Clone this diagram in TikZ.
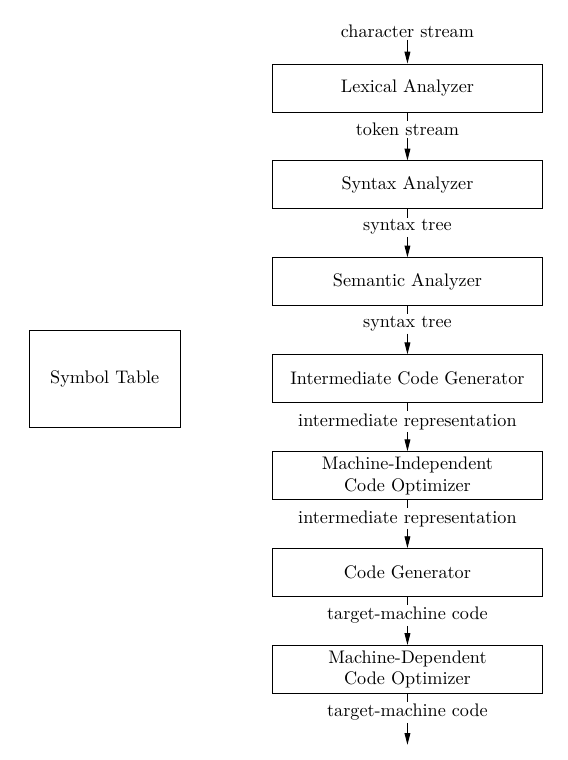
\documentclass[tikz,border=0pt]{standalone}
\usetikzlibrary{positioning,arrows.meta}
\begin{document}
\begin{tikzpicture}[node distance=26.4pt]
        \tikzstyle{phase}=[draw,rectangle,minimum width=149pt,minimum height=26.4pt,inner sep=2pt,align=center,line width=0.5pt]
        \tikzstyle{stream}=[inner sep=1pt]
        \tikzstyle{flow}=[-{Triangle[length=6.5pt,width=3.2pt]},line width=0.5pt]
        \useasboundingbox (-224.1pt,48.4pt) rectangle (88.3pt,-369.6pt);
        % the phases
        \node[phase] (lex) {Lexical Analyzer};
        \node[phase, below=of lex] (syn) {Syntax Analyzer};
        \node[phase, below=of syn] (sem) {Semantic Analyzer};
        \node[phase, below=of sem] (icg) {Intermediate Code Generator};
        \node[phase, below=of icg] (mio) {Machine-Independent\\Code Optimizer};
        \node[phase, below=of mio] (cg) {Code Generator};
        \node[phase, below=of cg] (mdo) {Machine-Dependent\\Code Optimizer};
        \node[draw, line width=0.5pt, minimum width=83pt, minimum height=53.4pt, left=50pt of icg] (symtab) {Symbol Table};
        % what flows between them
        \node[stream, above=13pt of lex] (chars) {character stream};
        \node[stream, below=4.5pt of lex] (toks) {token stream};
        \node[stream, below=4.5pt of syn] (tree1) {syntax tree};
        \node[stream, below=4.5pt of sem] (tree2) {syntax tree};
        \node[stream, below=4.5pt of icg] (ir1) {intermediate representation};
        \node[stream, below=4.5pt of mio] (ir2) {intermediate representation};
        \node[stream, below=4.5pt of cg] (tmc1) {target-machine code};
        \node[stream, below=4.5pt of mdo] (tmc2) {target-machine code};
        \coordinate[below=28pt of mdo] (out);
        \draw[flow] (chars) -- (lex);
        \draw (lex) -- (toks); \draw[flow] (toks) -- (syn);
        \draw (syn) -- (tree1); \draw[flow] (tree1) -- (sem);
        \draw (sem) -- (tree2); \draw[flow] (tree2) -- (icg);
        \draw (icg) -- (ir1); \draw[flow] (ir1) -- (mio);
        \draw (mio) -- (ir2); \draw[flow] (ir2) -- (cg);
        \draw (cg) -- (tmc1); \draw[flow] (tmc1) -- (mdo);
        \draw (mdo) -- (tmc2); \draw[flow] (tmc2) -- (out);
\end{tikzpicture}
\end{document}
